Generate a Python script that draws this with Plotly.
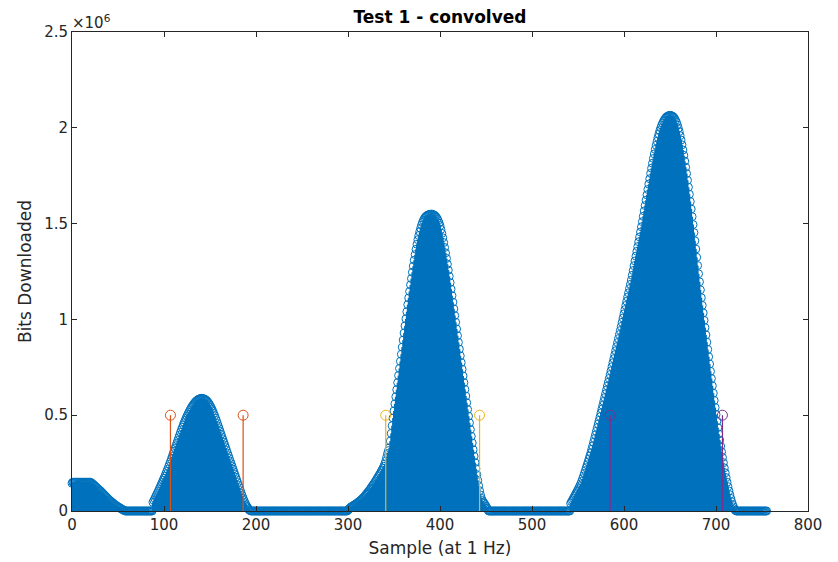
import plotly.graph_objects as go

# Bits downloaded per sample, in millions
bits_millions = [
    # 0-19 flat start
    0.145, 0.15, 0.15, 0.15, 0.15, 0.15, 0.15, 0.15, 0.15, 0.15,
    0.15, 0.15, 0.15, 0.15, 0.15, 0.15, 0.15, 0.15, 0.15, 0.15,
    # 20-58 decay
    0.150, 0.147, 0.143, 0.139, 0.135, 0.130, 0.126, 0.121, 0.117, 0.112,
    0.108, 0.104, 0.099, 0.094, 0.089, 0.084, 0.079, 0.074, 0.069, 0.064,
    0.059, 0.055, 0.051, 0.047, 0.043, 0.039, 0.035, 0.032, 0.028, 0.025,
    0.022, 0.019, 0.016, 0.013, 0.010, 0.007, 0.005, 0.002, 0.000,
    # 59-87 zeros
    0, 0, 0, 0, 0, 0, 0, 0, 0, 0, 0, 0, 0, 0, 0, 0, 0, 0, 0, 0,
    0, 0, 0, 0, 0, 0, 0, 0, 0,
    # 88-195 first peak
    0.045, 0.055, 0.065, 0.075, 0.085, 0.095, 0.105, 0.116, 0.127, 0.138,
    0.149, 0.160, 0.171, 0.182, 0.194, 0.206, 0.218, 0.231, 0.244, 0.257,
    0.270, 0.284, 0.298, 0.312, 0.326, 0.340, 0.354, 0.368, 0.382, 0.396,
    0.410, 0.423, 0.436, 0.449, 0.461, 0.473, 0.484, 0.495, 0.505, 0.515,
    0.524, 0.533, 0.541, 0.549, 0.556, 0.562, 0.568, 0.573, 0.577, 0.581,
    0.584, 0.586, 0.587, 0.588, 0.587,
    0.586, 0.584, 0.581, 0.577, 0.572, 0.566, 0.559, 0.551, 0.542, 0.532,
    0.521, 0.509, 0.497, 0.484, 0.471, 0.457, 0.443, 0.429, 0.415, 0.400,
    0.386, 0.372, 0.358, 0.344, 0.330, 0.316, 0.302, 0.288, 0.274, 0.260,
    0.246, 0.232, 0.218, 0.204, 0.190, 0.176, 0.162, 0.148, 0.134, 0.120,
    0.106, 0.092, 0.079, 0.066, 0.054, 0.043, 0.033, 0.024, 0.016, 0.009,
    0.004, 0.001, 0.000,
    # 196-299 zeros
    0, 0, 0, 0, 0, 0, 0, 0, 0, 0, 0, 0, 0, 0, 0, 0, 0, 0, 0, 0,
    0, 0, 0, 0, 0, 0, 0, 0, 0, 0, 0, 0, 0, 0, 0, 0, 0, 0, 0, 0,
    0, 0, 0, 0, 0, 0, 0, 0, 0, 0, 0, 0, 0, 0, 0, 0, 0, 0, 0, 0,
    0, 0, 0, 0, 0, 0, 0, 0, 0, 0, 0, 0, 0, 0, 0, 0, 0, 0, 0, 0,
    0, 0, 0, 0, 0, 0, 0, 0, 0, 0, 0, 0, 0, 0, 0, 0, 0, 0, 0, 0,
    0, 0, 0, 0,
    # 300-453 second peak
    0.005, 0.010, 0.015, 0.020, 0.023, 0.026, 0.029, 0.032, 0.035, 0.038,
    0.041, 0.045, 0.049, 0.053, 0.057, 0.061, 0.066, 0.071, 0.076, 0.082,
    0.088, 0.094, 0.100, 0.106, 0.113, 0.120, 0.127, 0.134, 0.141, 0.148,
    0.156, 0.164, 0.172, 0.180, 0.188, 0.196, 0.205, 0.214, 0.223, 0.233,
    0.245, 0.260, 0.280, 0.300, 0.315, 0.330, 0.365, 0.405, 0.445, 0.485,
    0.522, 0.559, 0.596, 0.633, 0.670, 0.707, 0.744, 0.781, 0.818, 0.855,
    0.892, 0.929, 0.966, 1.003, 1.040, 1.077, 1.112, 1.146, 1.180, 1.213,
    1.246, 1.278, 1.309, 1.338, 1.366, 1.392, 1.416, 1.438, 1.458, 1.476,
    1.492, 1.506, 1.517, 1.526, 1.533, 1.538, 1.542, 1.545, 1.547, 1.548,
    1.549, 1.549, 1.548, 1.546, 1.543, 1.539, 1.533, 1.525, 1.515, 1.503,
    1.489, 1.470, 1.449, 1.426, 1.401, 1.375, 1.347, 1.318, 1.288, 1.257,
    1.225, 1.192, 1.158, 1.124, 1.090, 1.055, 1.020, 0.985, 0.950, 0.915,
    0.880, 0.845, 0.810, 0.775, 0.740, 0.705, 0.670, 0.635, 0.600, 0.565,
    0.530, 0.495, 0.460, 0.425, 0.390, 0.355, 0.320, 0.286, 0.253, 0.221,
    0.190, 0.160, 0.132, 0.106, 0.084, 0.066, 0.054, 0.046, 0.040, 0.033,
    0.025, 0.016, 0.007, 0.000,
    # 454-541 zeros
    0, 0, 0, 0, 0, 0, 0, 0, 0, 0, 0, 0, 0, 0, 0, 0, 0, 0, 0, 0,
    0, 0, 0, 0, 0, 0, 0, 0, 0, 0, 0, 0, 0, 0, 0, 0, 0, 0, 0, 0,
    0, 0, 0, 0, 0, 0, 0, 0, 0, 0, 0, 0, 0, 0, 0, 0, 0, 0, 0, 0,
    0, 0, 0, 0, 0, 0, 0, 0, 0, 0, 0, 0, 0, 0, 0, 0, 0, 0, 0, 0,
    0, 0, 0, 0, 0, 0, 0, 0,
    # 542-722 third peak
    0.040, 0.048, 0.057, 0.066, 0.075, 0.084, 0.093, 0.102, 0.111, 0.121,
    0.131, 0.141, 0.154, 0.168, 0.182, 0.196, 0.211, 0.226, 0.241, 0.256,
    0.272, 0.288, 0.304, 0.322, 0.340, 0.359, 0.378, 0.397, 0.416, 0.435,
    0.454, 0.473, 0.492, 0.512, 0.532, 0.552, 0.572, 0.592, 0.612, 0.632,
    0.652, 0.672, 0.692, 0.712, 0.732, 0.753, 0.774, 0.795, 0.816, 0.837,
    0.858, 0.879, 0.900, 0.921, 0.942, 0.963, 0.985, 1.007, 1.029, 1.051,
    1.073, 1.095, 1.117, 1.139, 1.161, 1.183, 1.205, 1.230, 1.255, 1.280,
    1.305, 1.330, 1.355, 1.380, 1.405, 1.430, 1.456, 1.483, 1.510, 1.538,
    1.566, 1.594, 1.622, 1.650, 1.678, 1.706, 1.734, 1.762, 1.789, 1.815,
    1.840, 1.864, 1.887, 1.909, 1.930, 1.950, 1.968, 1.985, 2.000, 2.013,
    2.024, 2.034, 2.042, 2.049, 2.055, 2.059, 2.062, 2.064, 2.065, 2.064,
    2.062, 2.059, 2.055,
    2.048, 2.039, 2.028, 2.014, 1.998, 1.980, 1.959, 1.936, 1.911, 1.884,
    1.856, 1.826, 1.794, 1.761, 1.726, 1.690, 1.653, 1.615, 1.576, 1.536,
    1.495, 1.453, 1.410, 1.367, 1.324, 1.281, 1.238, 1.196, 1.154, 1.113,
    1.073, 1.034, 0.995, 0.957, 0.919, 0.881, 0.843, 0.805, 0.767, 0.729,
    0.691, 0.653, 0.615, 0.577, 0.540, 0.504, 0.469, 0.435, 0.402, 0.370,
    0.339, 0.309, 0.280, 0.252, 0.225, 0.199, 0.174, 0.150, 0.127, 0.105,
    0.085, 0.066, 0.049, 0.034, 0.021, 0.011, 0.004, 0.000,
    # 723-755 zeros
    0, 0, 0, 0, 0, 0, 0, 0, 0, 0, 0, 0, 0, 0, 0, 0, 0, 0, 0, 0,
    0, 0, 0, 0, 0, 0, 0, 0, 0, 0, 0, 0, 0,
]

# Threshold stems
threshold_samples = [107, 186, 341, 443, 585, 707]
threshold_values = [500000, 500000, 500000, 500000, 500000, 500000]
threshold_colors = ["#D95319", "#D95319", "#EDB120", "#EDB120", "#7E2F8E", "#7E2F8E"]

x_tick_values = [0, 100, 200, 300, 400, 500, 600, 700, 800]
y_tick_values = [0, 500000, 1000000, 1500000, 2000000, 2500000]
y_tick_labels = ["0", "0.5", "1", "1.5", "2", "2.5"]

samples = list(range(len(bits_millions)))
bits = [v * 1e6 for v in bits_millions]

BLUE = "#0072BD"
FONT = "DejaVu Sans"
TXT = "#262626"


def stem_xy(xs, ys):
    sx, sy = [], []
    for x, y in zip(xs, ys):
        sx += [x, x, None]
        sy += [0, y, None]
    return sx, sy


fig = go.Figure()

sx, sy = stem_xy(samples, bits)
fig.add_trace(go.Scatter(x=sx, y=sy, mode="lines",
                         line=dict(color=BLUE, width=2), hoverinfo="skip",
                         showlegend=False))
fig.add_trace(go.Scatter(x=samples, y=bits, mode="markers",
                         marker=dict(symbol="circle-open", size=8,
                                     line=dict(color=BLUE, width=1), color=BLUE),
                         cliponaxis=False, showlegend=False))

for i in range(0, len(threshold_samples), 2):
    xs = threshold_samples[i:i + 2]
    ys = threshold_values[i:i + 2]
    col = threshold_colors[i]
    tx, ty = stem_xy(xs, ys)
    fig.add_trace(go.Scatter(x=tx, y=ty, mode="lines",
                             line=dict(color=col, width=1.2), showlegend=False))
    fig.add_trace(go.Scatter(x=xs, y=ys, mode="markers",
                             marker=dict(symbol="circle-open", size=10,
                                         line=dict(color=col, width=1), color=col),
                             cliponaxis=False, showlegend=False))

axis_common = dict(
    showgrid=False, zeroline=False, showline=True, linecolor=TXT, linewidth=1,
    mirror="ticks", ticks="inside", ticklen=5, tickwidth=1, tickcolor=TXT,
    tickfont=dict(family=FONT, size=15, color=TXT), automargin=False,
)

fig.update_layout(
    width=838, height=562,
    margin=dict(l=72, r=30, t=32, b=51),
    paper_bgcolor="white", plot_bgcolor="white",
    font=dict(family=FONT, color=TXT),
    title=dict(text="<b>Test 1 - convolved</b>", x=0.5, xref="paper",
               xanchor="center",
               y=1 - 17 / 562, yref="container", yanchor="middle",
               font=dict(family=FONT, size=17, color="black")),
    xaxis=dict(range=[0, 800], tickvals=x_tick_values,
               title=dict(text="Sample (at 1 Hz)", standoff=9,
                          font=dict(family=FONT, size=17, color=TXT)),
               **axis_common),
    yaxis=dict(range=[0, 2500000], tickvals=y_tick_values, ticktext=y_tick_labels,
               title=dict(text="Bits Downloaded", standoff=8,
                          font=dict(family=FONT, size=17, color=TXT)),
               **axis_common),
    annotations=[dict(text="\u00d710<sup>6</sup>", xref="paper", yref="paper",
                      x=0, y=1, xanchor="left", yanchor="bottom",
                      showarrow=False, xshift=-2, yshift=-2,
                      font=dict(family=FONT, size=15, color=TXT))],
)

fig.write_html("out.html")
